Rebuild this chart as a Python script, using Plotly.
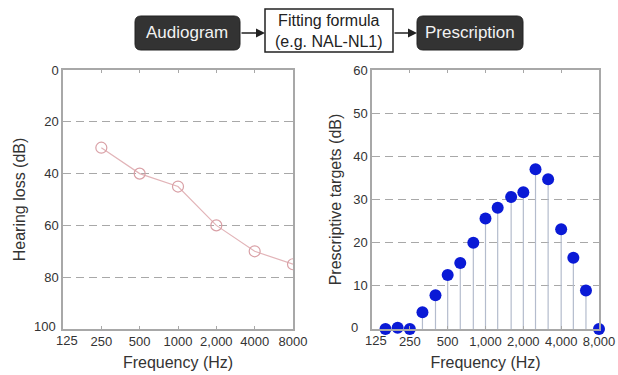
import plotly.graph_objects as go
import math

W, H = 618, 375

# ---- data ----
audiogram_freq = [250, 500, 1000, 2000, 4000, 8000]
hearing_loss = [30, 40, 45, 60, 70, 75]

presc_freq = [160, 200, 250, 315, 400, 500, 630, 800, 1000, 1250, 1600,
              2000, 2500, 3150, 4000, 5000, 6300, 8000]
presc_targets = [0, 0.3, 0, 3.9, 7.8, 12.5, 15.3, 20.0, 25.6, 28.1, 30.6,
                 31.7, 37.0, 34.7, 23.1, 16.5, 8.9, 0]

left_xticks = [125, 250, 500, 1000, 2000, 4000, 8000]
left_xlabels = ["125", "250", "500", "1000", "2,000", "4000", "8000"]
right_xticks = [125, 250, 500, 1000, 2000, 4000, 8000]
right_xlabels = ["125", "250", "500", "1,000", "2,000", "4,000", "8,000"]
left_yticks = [0, 20, 40, 60, 80, 100]
right_yticks = [0, 10, 20, 30, 40, 50, 60]

flow_labels = ["Audiogram", "Fitting formula<br>(e.g. NAL-NL1)", "Prescription"]


def px(x):
    return x / W


def py(y):
    return 1 - y / H


TICKFONT = dict(family="Liberation Sans", size=13, color="#333")

fig = go.Figure()

# left: audiogram
fig.add_trace(go.Scatter(
    x=audiogram_freq, y=hearing_loss, mode="lines+markers",
    line=dict(color="#e2b4b8", width=1.2),
    marker=dict(symbol="circle-open", size=11, color="#d9a0a6",
                line=dict(width=1.2, color="#d9a0a6")),
    xaxis="x", yaxis="y", showlegend=False))

# right: stems
sx, sy = [], []
for f, v in zip(presc_freq, presc_targets):
    sx += [f, f, None]
    sy += [0, v, None]
fig.add_trace(go.Scatter(
    x=sx, y=sy, mode="lines", line=dict(color="#b4bccd", width=1.2),
    xaxis="x2", yaxis="y2", showlegend=False, hoverinfo="skip"))
fig.add_trace(go.Scatter(
    x=presc_freq, y=presc_targets, mode="markers",
    marker=dict(size=12, color="#0a1ad6"),
    xaxis="x2", yaxis="y2", showlegend=False, cliponaxis=False))

axis_common = dict(showline=True, linecolor="#a8a8a8", linewidth=1.5,
                   mirror="ticks", ticks="inside", ticklen=3,
                   tickcolor="#a8a8a8", zeroline=False, automargin=False,
                   tickfont=TICKFONT,
                   title_font=dict(family="Liberation Sans", size=16, color="#333"))
xr = [math.log10(125), math.log10(8000)]

# first x label / end y label are drawn as shifted annotations (as in the reference)
lx_text = [""] + left_xlabels[1:]
rx_text = [""] + right_xlabels[1:]
ly_text = [str(v) for v in left_yticks[:-1]] + [""]
ry_text = [""] + [str(v) for v in right_yticks[1:]]

fig.update_layout(
    width=W, height=H, margin=dict(l=0, r=0, t=0, b=0, autoexpand=False),
    paper_bgcolor="white", plot_bgcolor="white",
    xaxis=dict(domain=[px(63), px(293)], type="log", range=xr,
               tickvals=left_xticks, ticktext=lx_text, showgrid=False,
               title=dict(text="Frequency (Hz)", standoff=8), anchor="y",
               **axis_common),
    yaxis=dict(domain=[py(329), py(70)], range=[100, 0],
               tickvals=left_yticks, ticktext=ly_text, showgrid=True,
               gridcolor="#a8a8a8", griddash="8px,5px", gridwidth=1.2,
               title=dict(text="Hearing loss (dB)", standoff=15), anchor="x",
               **axis_common),
    xaxis2=dict(domain=[px(372), px(599)], type="log", range=xr,
                tickvals=right_xticks, ticktext=rx_text, showgrid=False,
                title=dict(text="Frequency (Hz)", standoff=8), anchor="y2",
                **axis_common),
    yaxis2=dict(domain=[py(329), py(70)], range=[0, 60],
                tickvals=right_yticks, ticktext=ry_text, showgrid=True,
                gridcolor="#a8a8a8", griddash="8px,5px", gridwidth=1.2,
                title=dict(text="Prescriptive targets (dB)", standoff=8),
                anchor="x2", **axis_common),
)

# shifted corner labels (log axes take log10 positions for annotations)
fig.add_annotation(x=math.log10(left_xticks[0]), y=0, xref="x", yref="y domain",
                   text=left_xlabels[0], showarrow=False, xanchor="center",
                   yanchor="top", xshift=4, yshift=-2, font=TICKFONT)
fig.add_annotation(x=math.log10(right_xticks[0]), y=0, xref="x2", yref="y2 domain",
                   text=right_xlabels[0], showarrow=False, xanchor="center",
                   yanchor="top", xshift=4, yshift=-2, font=TICKFONT)
fig.add_annotation(x=0, y=left_yticks[-1], xref="x domain", yref="y",
                   text=str(left_yticks[-1]), showarrow=False, xanchor="right",
                   yanchor="middle", xshift=-5, yshift=3, font=TICKFONT)
fig.add_annotation(x=0, y=right_yticks[0], xref="x2 domain", yref="y2",
                   text=str(right_yticks[0]), showarrow=False, xanchor="right",
                   yanchor="middle", xshift=-12, yshift=2, font=TICKFONT)


def rounded_rect(x0, y0, x1, y1, r):
    X0, X1 = px(x0), px(x1)
    Y0, Y1 = py(y0), py(y1)
    rx, ry = r / W, r / H
    return (f"M {X0+rx},{Y0} L {X1-rx},{Y0} Q {X1},{Y0} {X1},{Y0-ry} "
            f"L {X1},{Y1+ry} Q {X1},{Y1} {X1-rx},{Y1} L {X0+rx},{Y1} "
            f"Q {X0},{Y1} {X0},{Y1+ry} L {X0},{Y0-ry} Q {X0},{Y0} {X0+rx},{Y0} Z")


boxes = [(135, 16, 240, 50, "dark"), (265, 9, 393, 52, "light"), (417, 16, 523, 50, "dark")]
for (x0, y0, x1, y1, kind), lab in zip(boxes, flow_labels):
    if kind == "dark":
        fig.add_shape(type="path", xref="paper", yref="paper",
                      path=rounded_rect(x0, y0, x1, y1, 6),
                      fillcolor="#333333", line=dict(color="#222", width=1))
        col, size = "#f2f2f2", 17
    else:
        fig.add_shape(type="rect", xref="paper", yref="paper",
                      x0=px(x0), x1=px(x1), y0=py(y1), y1=py(y0),
                      fillcolor="white", line=dict(color="#222", width=1.5))
        col, size = "#222", 16
    fig.add_annotation(x=px((x0 + x1) / 2), y=py((y0 + y1) / 2), xref="paper",
                       yref="paper", text=lab, showarrow=False,
                       xanchor="center", yanchor="middle",
                       font=dict(family="Liberation Sans", size=size, color=col),
                       align="center")

for xs, xe in [(240, 265), (393, 417)]:
    fig.add_annotation(x=px(xe), y=py(33), ax=xs - xe, ay=0,
                       xref="paper", yref="paper",
                       text="", showarrow=True, arrowhead=2, arrowsize=1.2,
                       arrowwidth=1.5, arrowcolor="#222")

fig.write_html("out.html")
